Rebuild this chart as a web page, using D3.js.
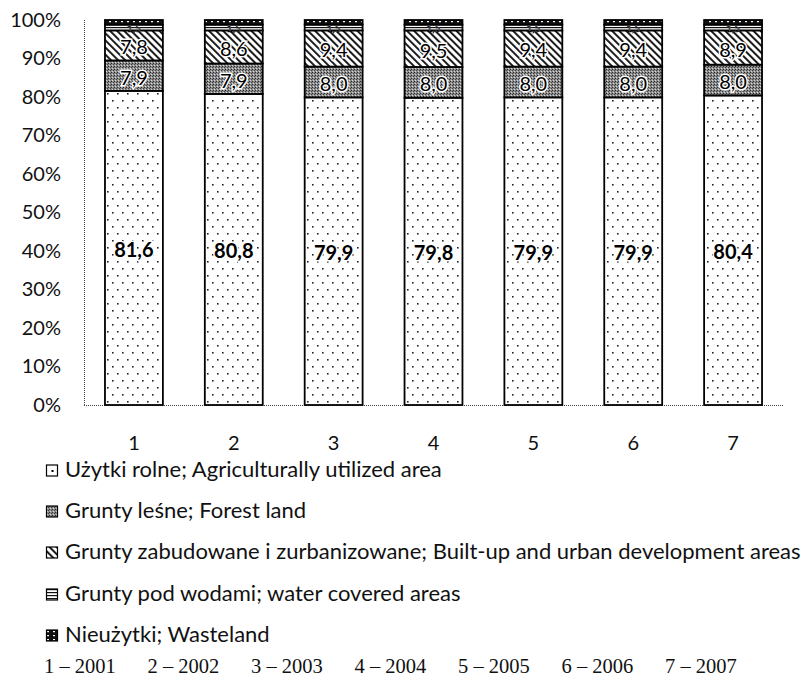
<!DOCTYPE html>
<html><head><meta charset="utf-8">
<script src="https://cdn.jsdelivr.net/npm/d3@7/dist/d3.min.js"></script>
<style>body{margin:0;background:#fff}svg{display:block}</style>
</head><body><div id="chart"></div>
<script>
const categories = ["1","2","3","4","5","6","7"];
const agricultural = [81.6,80.8,79.9,79.8,79.9,79.9,80.4];
const forest = [7.9,7.9,8.0,8.0,8.0,8.0,8.0];
const builtUp = [7.8,8.6,9.4,9.5,9.4,9.4,8.9];
const water = [1.5,1.5,1.5,1.5,1.5,1.5,1.5];
const wasteland = [1.2,1.2,1.2,1.2,1.2,1.2,1.2];
const seriesKeys = ["agri","forest","built","water","waste"];
const seriesNames = [
  "Użytki rolne; Agriculturally utilized area",
  "Grunty leśne; Forest land",
  "Grunty zabudowane i zurbanizowane; Built-up and urban development areas",
  "Grunty pod wodami; water covered areas",
  "Nieużytki; Wasteland"
];
const yTicks = [0,10,20,30,40,50,60,70,80,90,100];
const yearNote = ["1 – 2001","2 – 2002","3 – 2003","4 – 2004","5 – 2005","6 – 2006","7 – 2007"];

(function(){
const W = 801, H = 681;
const svg = d3.select("#chart").append("svg").attr("width",W).attr("height",H);
const defs = svg.append("defs");

const pA = defs.append("pattern").attr("id","p-agri").attr("patternUnits","userSpaceOnUse").attr("width",10).attr("height",14);
pA.append("rect").attr("width",10).attr("height",14).attr("fill","#fff");
pA.append("rect").attr("x",2).attr("y",2).attr("width",1.6).attr("height",1.6).attr("fill","#222");
pA.append("rect").attr("x",7).attr("y",9).attr("width",1.6).attr("height",1.6).attr("fill","#222");

const pF = defs.append("pattern").attr("id","p-forest").attr("patternUnits","userSpaceOnUse").attr("width",3).attr("height",3);
pF.append("rect").attr("width",3).attr("height",3).attr("fill","#8c8c8c");
pF.append("rect").attr("x",0).attr("y",0).attr("width",1).attr("height",1).attr("fill","#2a2a2a");
pF.append("rect").attr("x",2).attr("y",1).attr("width",1).attr("height",1).attr("fill","#444");
pF.append("rect").attr("x",1).attr("y",2).attr("width",1).attr("height",1).attr("fill","#d8d8d8");

const pB = defs.append("pattern").attr("id","p-built").attr("patternUnits","userSpaceOnUse").attr("width",5).attr("height",5).attr("patternTransform","rotate(-45)");
pB.append("rect").attr("width",5).attr("height",5).attr("fill","#fff");
pB.append("rect").attr("x",0).attr("y",0).attr("width",1.9).attr("height",5).attr("fill","#111");

const pW = defs.append("pattern").attr("id","p-water").attr("patternUnits","userSpaceOnUse").attr("width",4).attr("height",3);
pW.append("rect").attr("width",4).attr("height",3).attr("fill","#fff");
pW.append("rect").attr("x",0).attr("y",0).attr("width",4).attr("height",1.2).attr("fill","#111");

const pN = defs.append("pattern").attr("id","p-waste").attr("patternUnits","userSpaceOnUse").attr("width",6).attr("height",4);
pN.append("rect").attr("width",6).attr("height",4).attr("fill","#111");
pN.append("rect").attr("x",1).attr("y",1).attr("width",2).attr("height",1.2).attr("fill","#fff");

const pAL = defs.append("pattern").attr("id","p-agri-leg").attr("patternUnits","objectBoundingBox").attr("width",1).attr("height",1);
pAL.append("rect").attr("width",12).attr("height",12).attr("fill","#fff");
pAL.append("rect").attr("x",5).attr("y",5).attr("width",2).attr("height",2).attr("fill","#000");

const fills = {agri:"url(#p-agri)",forest:"url(#p-forest)",built:"url(#p-built)",water:"url(#p-water)",waste:"url(#p-waste)"};
const legFills = Object.assign({}, fills, {agri:"url(#p-agri-leg)"});

const mLeft = 84, mRight = 783, mTop = 20, mBottom = 405;
const x = d3.scaleBand().domain(categories).range([mLeft,mRight]).paddingInner(0.42).paddingOuter(0.21);
const y = d3.scaleLinear().domain([0,100]).range([mBottom,mTop]);

const rows = categories.map((c,i)=>({cat:c,agri:agricultural[i],forest:forest[i],built:builtUp[i],water:water[i],waste:wasteland[i]}));
const stacked = d3.stack().keys(seriesKeys)(rows);

const font = "Lato, 'Noto Sans', sans-serif";

svg.append("line").attr("x1",mLeft+0.5).attr("x2",mLeft+0.5).attr("y1",y(100)).attr("y2",y(0))
  .attr("stroke","#444").attr("stroke-width",1).attr("stroke-dasharray","1,1");
svg.append("line").attr("x1",mLeft).attr("x2",mRight).attr("y1",y(0)+0.5).attr("y2",y(0)+0.5)
  .attr("stroke","#444").attr("stroke-width",1).attr("stroke-dasharray","1,1");

const yAxis = d3.axisLeft(y).tickValues(yTicks).tickFormat(d=>d+"%").tickSize(0).tickPadding(23);
const ya = svg.append("g").attr("transform",`translate(${mLeft},0)`).call(yAxis);
ya.select(".domain").remove();
ya.selectAll("text").attr("font-family",font).attr("font-size",20).attr("fill","#111");

const layers = svg.append("g").selectAll("g").data(stacked).join("g").attr("fill",d=>fills[d.key]);
layers.selectAll("rect").data(d=>d).join("rect")
  .attr("x",d=>x(d.data.cat)).attr("width",x.bandwidth())
  .attr("y",d=>y(d[1])).attr("height",d=>y(d[0])-y(d[1]))
  .attr("stroke","#000").attr("stroke-width",1.8);

const ws = stacked.find(s=>s.key==="water");
svg.append("g").selectAll("text").data(ws).join("text")
  .attr("x",d=>x(d.data.cat)+x.bandwidth()/2)
  .attr("y",d=>(y(d[0])+y(d[1]))/2)
  .attr("text-anchor","middle").attr("dominant-baseline","central")
  .attr("font-family",font).attr("font-size",10)
  .attr("fill","#fff").attr("stroke","#000").attr("stroke-width",0.6)
  .text(d=>d3.format(".1f")(d.data.water).replace(".",","));

const labelLayers = ["agri","forest","built"];
stacked.filter(s=>labelLayers.includes(s.key)).forEach(s=>{
  svg.append("g").selectAll("text").data(s).join("text")
    .attr("x",d=>x(d.data.cat)+x.bandwidth()/2)
    .attr("y",d=>(y(d[0])+y(d[1]))/2+1)
    .attr("text-anchor","middle").attr("dominant-baseline","central")
    .attr("font-family",font).attr("font-size",20)
    .attr("font-weight",s.key==="agri"?"bold":"normal")
    .attr("fill","#000").attr("stroke","#fff").attr("stroke-width",3).attr("paint-order","stroke")
    .text(d=>d3.format(".1f")(d.data[s.key]).replace(".",","));
});

const xAxis = d3.axisBottom(x).tickSize(0).tickPadding(31);
const xa = svg.append("g").attr("transform",`translate(0,${mBottom})`).call(xAxis);
xa.select(".domain").remove();
xa.selectAll("text").attr("font-family",font).attr("font-size",20).attr("fill","#111");

const legY = [477, 518, 559, 601, 642];
const lg = svg.append("g").selectAll("g").data(seriesKeys).join("g")
  .attr("transform",(d,i)=>`translate(46,${legY[i]})`);
lg.append("rect").attr("x",0.5).attr("y",-12).attr("width",11).attr("height",11)
  .attr("fill",d=>legFills[d]).attr("stroke","#000").attr("stroke-width",1.2);
lg.append("text").attr("x",19).attr("y",0).attr("font-family",font).attr("font-size",22).attr("fill","#111")
  .text((d,i)=>seriesNames[i]);

const yn = svg.append("text").attr("y",673).attr("font-family","'Liberation Serif', 'DejaVu Serif', serif").attr("font-size",20.5).attr("fill","#111");
yearNote.forEach((t,i)=>{ yn.append("tspan").attr("x",44+i*103.5).text(t); });
})();
</script></body></html>
